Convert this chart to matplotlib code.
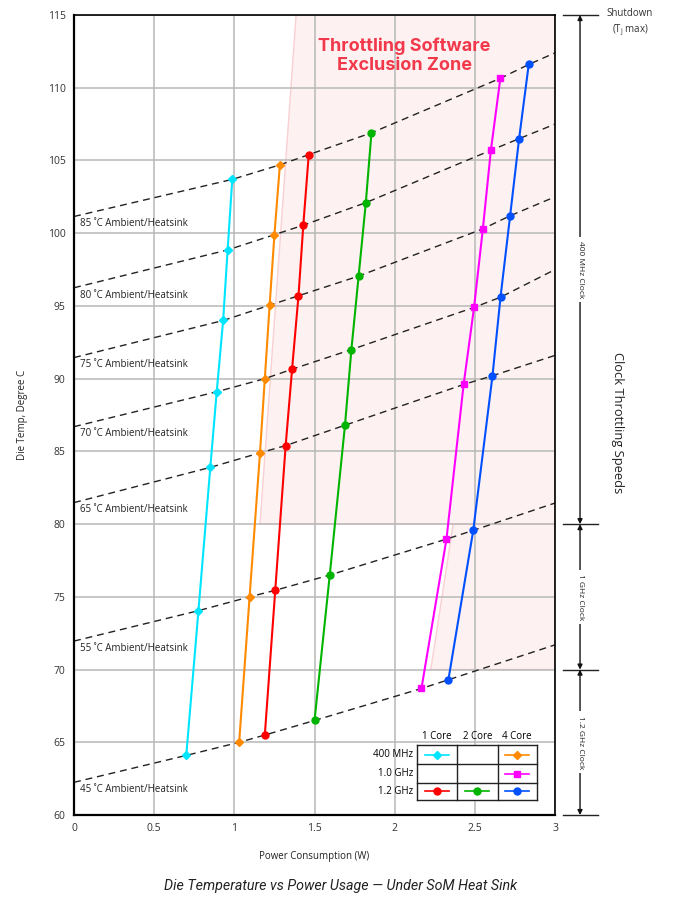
import numpy as np
import matplotlib.pyplot as plt

plt.rc('font', family='Open Sans', size=7)

# power (W) / die temp (C) for each clock / core setting
x_400_1 = [0.70, 0.776, 0.85, 0.89, 0.93, 0.958, 0.987]
y_400_1 = [64.1, 74.05, 83.9, 89.1, 94.0, 98.85, 103.7]
x_400_4 = [1.03, 1.095, 1.16, 1.19, 1.22, 1.25, 1.284]
y_400_4 = [65.0, 75.0, 84.9, 90.0, 95.05, 99.9, 104.7]
x_12_1 = [1.19, 1.255, 1.32, 1.36, 1.40, 1.43, 1.464]
y_12_1 = [65.5, 75.45, 85.4, 90.65, 95.7, 100.55, 105.4]
x_12_2 = [1.50, 1.595, 1.69, 1.73, 1.775, 1.82, 1.855]
y_12_2 = [66.5, 76.5, 86.8, 92.0, 97.05, 102.1, 106.9]
x_10_4 = [2.167, 2.323, 2.43, 2.495, 2.55, 2.60, 2.659]
y_10_4 = [68.7, 78.97, 89.6, 94.9, 100.3, 105.7, 110.65]
x_12_4 = [2.335, 2.49, 2.61, 2.66, 2.72, 2.776, 2.836]
y_12_4 = [69.3, 79.57, 90.2, 95.6, 101.2, 106.5, 111.6]

# ambient / heatsink curves: temp at 0 W and at 3 W
ambient = [45, 55, 65, 70, 75, 80, 85]
amb_start = [62.25, 71.96, 81.48, 86.7, 91.45, 96.25, 101.15]
amb_end = [71.7, 81.45, 91.6, 97.5, 102.5, 107.5, 112.4]

# throttling exclusion zone outline
zone_hi_x = [1.16, 1.385, 3.0, 3.0]
zone_hi_y = [80, 115, 115, 80]
zone_lo_x = [2.225, 2.365, 3.0, 3.0]
zone_lo_y = [70, 80, 80, 70]

# clock bands on the right
band_edges = [115, 80, 70, 60]
band_names = ['400 MHz Clock', '1 GHz Clock', '1.2 GHz Clock']

series = [
    (x_400_1, y_400_1, '#00e5ff', 'D', 4.5),
    (x_400_4, y_400_4, '#ff8a00', 'D', 4.5),
    (x_12_1, y_12_1, '#ff0000', 'o', 5),
    (x_12_2, y_12_2, '#00b400', 'o', 5),
    (x_10_4, y_10_4, '#ff00ff', 's', 5),
    (x_12_4, y_12_4, '#0050ff', 'o', 5),
]

fig = plt.figure(figsize=(6.81, 9.05), dpi=100)
ax = fig.add_axes([0.1087, 0.0994, 0.7063, 0.884])

ax.fill(zone_hi_x, zone_hi_y, facecolor='#fdf1f1', edgecolor='#f9d0d3', lw=1, zorder=0)
ax.fill(zone_lo_x, zone_lo_y, facecolor='#fdf1f1', edgecolor='#f9d0d3', lw=1, zorder=0)
ax.text(2.06, 112.2, 'Throttling Software\nExclusion Zone', color='#f2394b',
        fontsize=13, fontweight='bold', family='Inter', ha='center', va='center',
        linespacing=1.1)

# dashed ambient lines through the matching data point of every series
for i, t in enumerate(ambient):
    lx = [0] + [s[0][i] for s in series] + [3]
    ly = [amb_start[i]] + [s[1][i] for s in series] + [amb_end[i]]
    ax.plot(lx, ly, ls=(0, (5, 3.5)), color='#222222', lw=1, zorder=2)
    ax.text(0.04, amb_start[i] - 0.5, '%d ˚C Ambient/Heatsink' % t,
            fontsize=7, va='center', ha='left', color='#222222')

for sx, sy, c, m, ms in series:
    ax.plot(sx, sy, color=c, marker=m, ms=ms, lw=1.5, zorder=3)

ax.set_xlim(0, 3)
ax.set_ylim(60, 115)
ax.set_xticks(np.arange(0, 3.01, 0.5))
ax.set_xticklabels(['0', '0.5', '1', '1.5', '2', '2.5', '3'])
ax.set_yticks(np.arange(60, 116, 5))
ax.tick_params(length=0, pad=6, labelsize=7.5, colors='#333333')
ax.grid(True, color='#b8b8b8', lw=1.1)
ax.set_axisbelow(True)
for s in ['left', 'bottom']:
    ax.spines[s].set_linewidth(1.6)
ax.spines['top'].set_linewidth(1.2)
ax.spines['right'].set_linewidth(1.2)
ax.set_xlabel('Power Consumption (W)', fontsize=7, labelpad=12, color='#222222')
ax.set_ylabel('Die Temp, Degree C', fontsize=7, labelpad=14, color='#222222')

# legend table
tr = ax.transAxes
tx0, tx1 = 0.7125, 0.9620
tcols = [0.7125, 0.7964, 0.8808, 0.9620]
trows = [(v - 60) / 55 for v in [64.81, 63.48, 62.23, 61.03]]
ax.fill([tx0, tx1, tx1, tx0], [trows[0], trows[0], trows[-1], trows[-1]], color='white',
        transform=tr, zorder=4)
for v in trows:
    ax.plot([tx0, tx1], [v, v], color='#222222', lw=1, transform=tr, clip_on=False, zorder=5)
for u in tcols:
    ax.plot([u, u], [trows[0], trows[-1]], color='#222222', lw=1, transform=tr, clip_on=False, zorder=5)
for j, name in enumerate(['1 Core', '2 Core', '4 Core']):
    ax.text((tcols[j] + tcols[j + 1]) / 2, trows[0] + 0.004, name, transform=tr,
            ha='center', va='bottom', fontsize=7, zorder=6)
for k, name in enumerate(['400 MHz', '1.0 GHz', '1.2 GHz']):
    ax.text(tx0 - 0.008, (trows[k] + trows[k + 1]) / 2, name, transform=tr,
            ha='right', va='center', fontsize=7, zorder=6)
legend_cells = [(0, 0, 0), (0, 2, 1), (1, 2, 4), (2, 0, 2), (2, 1, 3), (2, 2, 5)]
for r, cidx, si in legend_cells:
    cx = (tcols[cidx] + tcols[cidx + 1]) / 2
    cy = (trows[r] + trows[r + 1]) / 2
    _, _, c, m, ms = series[si]
    ax.plot([cx - 0.025, cx + 0.025], [cy, cy], color=c, lw=1.2, transform=tr,
            clip_on=False, zorder=6)
    ax.plot([cx], [cy], color=c, marker=m, ms=ms, transform=tr, clip_on=False, zorder=7)

# clock throttling bands to the right of the plot
bt = ax.get_yaxis_transform()
for e in band_edges:
    ax.plot([1.017, 1.089], [e, e], color='#222222', lw=1, transform=bt, clip_on=False)
for k, name in enumerate(band_names):
    top, bot = band_edges[k], band_edges[k + 1]
    ax.annotate('', xy=(1.052, top), xytext=(1.052, bot), xycoords=bt, textcoords=bt,
                arrowprops=dict(arrowstyle='<|-|>', color='#111111', lw=1,
                                mutation_scale=7, shrinkA=0, shrinkB=0))
    ax.text(1.052, (top + bot) / 2, name, transform=bt, rotation=270, ha='center',
            va='center', fontsize=6, color='#222222',
            bbox=dict(facecolor='white', edgecolor='none', pad=3))
ax.text(1.156, 114.45, 'Shutdown\n(T$_\\mathregular{j}$ max)', transform=bt, ha='center',
        va='center', fontsize=7, color='#333333', linespacing=1.3)
ax.text(1.129, 87, 'Clock Throttling Speeds', transform=bt, rotation=270, ha='center',
        va='center', fontsize=9.3, color='#222222')

fig.text(0.5, 0.0205, 'Die Temperature vs Power Usage — Under SoM Heat Sink',
         ha='center', va='center', fontsize=10.3, style='italic', family='Roboto',
         color='#222222')

plt.savefig('out.png', dpi=100)
